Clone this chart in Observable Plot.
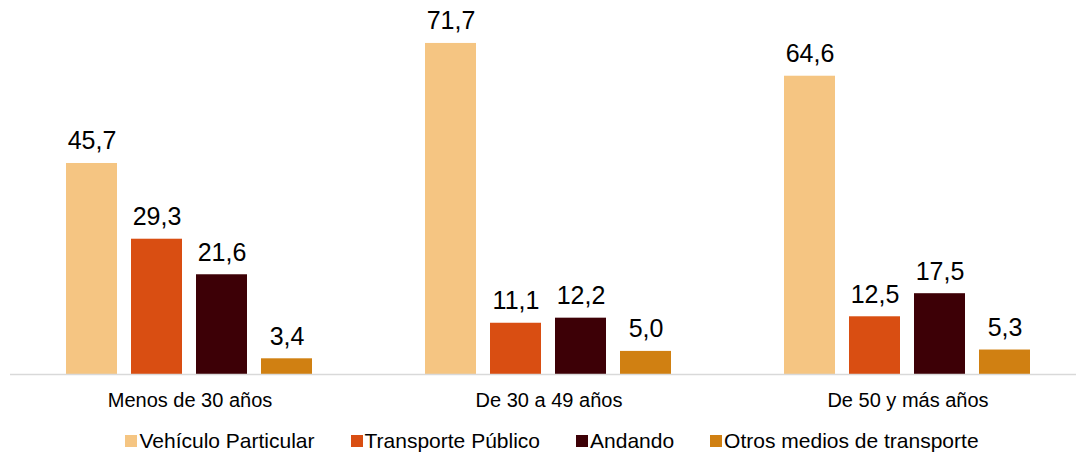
<!DOCTYPE html>
<html>
<head>
<meta charset="utf-8">
<script src="https://cdn.jsdelivr.net/npm/d3@7"></script>
<script src="https://cdn.jsdelivr.net/npm/@observablehq/plot@0.6"></script>
<style>
  html, body { margin: 0; padding: 0; background: #fff; overflow: hidden; }
  body { width: 1076px; font-family: "Liberation Sans", Arial, sans-serif; }
  #legend { display: flex; justify-content: center; gap: 36px; margin-top: 10px; padding-left: 28px;
            font-size: 21px; color: #000; line-height: 22px; }
  .item { display: flex; align-items: center; }
  .sw { width: 12px; height: 12px; margin-right: 2px; display: inline-block; }
</style>
</head>
<body>
<div id="chart"></div>
<div id="legend"></div>
<script>
const groups = ["Menos de 30 años", "De 30 a 49 años", "De 50 y más años"];
const series = ["Vehículo Particular", "Transporte Público", "Andando", "Otros medios de transporte"];
const vehiculo = [45.7, 71.7, 64.6];
const transporte = [29.3, 11.1, 12.5];
const andando = [21.6, 12.2, 17.5];
const otros = [3.4, 5.0, 5.3];
const colors = ["#F5C582", "#D94E12", "#3D0006", "#D08012"];

const values = [vehiculo, transporte, andando, otros];
const data = [];
groups.forEach((g, gi) => series.forEach((s, si) => data.push({group: g, serie: s, value: values[si][gi]})));

const fmt = v => v.toFixed(1).replace(".", ",");

const chart = Plot.plot({
  width: 1076,
  height: 420,
  marginLeft: 10,
  marginRight: -11,
  marginTop: 0,
  marginBottom: 46,
  style: {fontFamily: "Liberation Sans, Arial, sans-serif", background: "#fff", overflow: "visible"},
  fx: {domain: groups, padding: 0, label: null, axis: null},
  x: {domain: series, paddingInner: 0.215, paddingOuter: 0.869, axis: null},
  y: {domain: [0, 81], axis: null},
  color: {domain: series, range: colors},
  marks: [
    Plot.barY(data, {fx: "group", x: "serie", y: "value", fill: "serie"}),
    Plot.ruleY([0], {stroke: "#d9d9d9", strokeWidth: 1.5}),
    Plot.text(data, {fx: "group", x: "serie", y: "value", text: d => fmt(d.value),
      lineAnchor: "bottom", dy: -14, fontSize: 25, fill: "#000"}),
    Plot.axisFx({anchor: "bottom", tickSize: 0, tickPadding: 18, fontSize: 20, label: null, fill: "#000"})
  ]
});
document.getElementById("chart").appendChild(chart);

const legend = document.getElementById("legend");
series.forEach((s, i) => {
  const it = document.createElement("div");
  it.className = "item";
  const sw = document.createElement("span");
  sw.className = "sw";
  sw.style.background = colors[i];
  it.appendChild(sw);
  it.appendChild(document.createTextNode(s));
  legend.appendChild(it);
});
</script>
</body>
</html>
